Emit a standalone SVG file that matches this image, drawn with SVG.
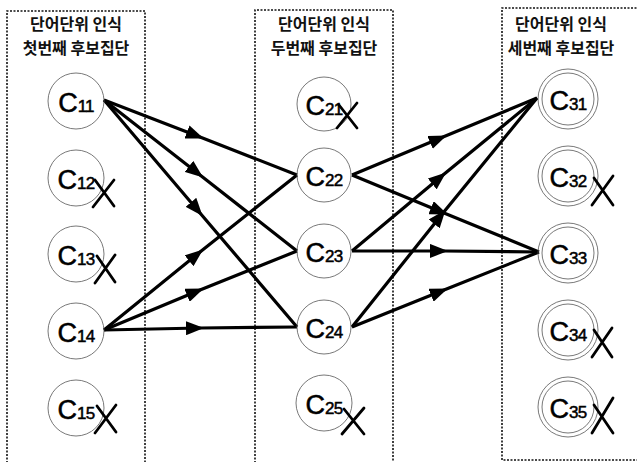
<svg xmlns="http://www.w3.org/2000/svg" width="637" height="462" viewBox="0 0 637 462">
<style>
.box{fill:none;stroke:#111;stroke-width:1.6;stroke-dasharray:2 1.5}
.title{font-family:"Noto Sans CJK KR","Noto Sans",sans-serif;font-size:16px;font-weight:bold;fill:#111;text-anchor:middle}
.c{fill:none;stroke:#555;stroke-width:0.8}
.lbl{font-family:"Liberation Sans",Arial,sans-serif;font-size:27px;fill:#000;stroke:#000;stroke-width:0.5;text-anchor:middle}
.sub{font-size:17px;letter-spacing:-0.8px}
.x{stroke:#000;stroke-width:2.8;fill:none;stroke-linecap:round}
.e{stroke:#000;stroke-width:3.2;fill:none;marker-mid:url(#ah)}
</style>
<defs>
<marker id="ah" markerUnits="userSpaceOnUse" viewBox="0 0 18 14" refX="14" refY="7" markerWidth="18" markerHeight="14" orient="auto">
<path d="M0,0 L18,7 L0,14 z" fill="#000"/>
</marker>
</defs>
<rect width="637" height="462" fill="#fff"/>
<g id="group1">
<path class="box" d="M7,470 V11 H145 V470"/>
<text class="title" x="76" y="30">단어단위 인식</text>
<text class="title" x="76" y="54">첫번째 후보집단</text>
</g>
<g id="group2">
<path class="box" d="M255,470 V10 H393 V470"/>
<text class="title" x="324" y="30">단어단위 인식</text>
<text class="title" x="324" y="54">두번째 후보집단</text>
</g>
<g id="group3">
<path class="box" d="M640,8 H502 V460 H640"/>
<text class="title" x="561" y="30">단어단위 인식</text>
<text class="title" x="561" y="54">세번째 후보집단</text>
</g>
<g id="connectors">
<path class="e" d="M104,100 L200,137 L297,175"/>
<path class="e" d="M104,100 L200,175 L297,251"/>
<path class="e" d="M104,100 L200,213 L297,327"/>
<path class="e" d="M104,330 L200,252 L297,175"/>
<path class="e" d="M104,330 L200,290 L297,251"/>
<path class="e" d="M104,330 L200,328 L297,327"/>
<path class="e" d="M352,175 L443,137 L537,98"/>
<path class="e" d="M352,175 L444,213 L539,252"/>
<path class="e" d="M352,251 L443,175 L537,98"/>
<path class="e" d="M352,251 L444,251 L539,252"/>
<path class="e" d="M352,327 L443,213 L537,98"/>
<path class="e" d="M352,327 L444,290 L539,252"/>
</g>
<g id="C11"><circle class="c" cx="76" cy="101" r="28"/><text class="lbl" x="76" y="112">C<tspan class="sub">11</tspan></text></g>
<g id="C12"><circle class="c" cx="76" cy="178" r="28"/><text class="lbl" x="76" y="189">C<tspan class="sub">12</tspan></text><path class="x" d="M95,180 L114,206 M93,207 L114,180"/></g>
<g id="C13"><circle class="c" cx="76" cy="254" r="28"/><text class="lbl" x="76" y="265">C<tspan class="sub">13</tspan></text><path class="x" d="M97,256 L115,282 M95,283 L115,255"/></g>
<g id="C14"><circle class="c" cx="76" cy="331" r="28"/><text class="lbl" x="76" y="342">C<tspan class="sub">14</tspan></text></g>
<g id="C15"><circle class="c" cx="76" cy="408" r="28"/><text class="lbl" x="76" y="419">C<tspan class="sub">15</tspan></text><path class="x" d="M97,406 L116,432 M95,433 L116,405"/></g>
<g id="C21"><circle class="c" cx="324" cy="104" r="27"/><text class="lbl" x="324" y="115">C<tspan class="sub">21</tspan></text><path class="x" d="M339,105 L357,128 M337,128 L357,103"/></g>
<g id="C22"><circle class="c" cx="324" cy="175" r="27"/><text class="lbl" x="324" y="186">C<tspan class="sub">22</tspan></text></g>
<g id="C23"><circle class="c" cx="324" cy="251" r="27"/><text class="lbl" x="324" y="262">C<tspan class="sub">23</tspan></text></g>
<g id="C24"><circle class="c" cx="324" cy="327" r="27"/><text class="lbl" x="324" y="338">C<tspan class="sub">24</tspan></text></g>
<g id="C25"><circle class="c" cx="324" cy="403" r="28"/><text class="lbl" x="324" y="414">C<tspan class="sub">25</tspan></text><path class="x" d="M344,409 L364,434 M342,434 L364,408"/></g>
<g id="C31"><circle class="c" cx="568" cy="99" r="30"/><circle class="c" cx="568" cy="99" r="26"/><text class="lbl" x="568" y="110">C<tspan class="sub">31</tspan></text></g>
<g id="C32"><circle class="c" cx="568" cy="176" r="30"/><circle class="c" cx="568" cy="176" r="26"/><text class="lbl" x="568" y="187">C<tspan class="sub">32</tspan></text><path class="x" d="M594,178 L613,205 M592,205 L613,176"/></g>
<g id="C33"><circle class="c" cx="568" cy="253" r="30"/><circle class="c" cx="568" cy="253" r="26"/><text class="lbl" x="568" y="264">C<tspan class="sub">33</tspan></text></g>
<g id="C34"><circle class="c" cx="568" cy="330" r="30"/><circle class="c" cx="568" cy="330" r="26"/><text class="lbl" x="568" y="341">C<tspan class="sub">34</tspan></text><path class="x" d="M594,330 L612,357 M592,357 L612,328"/></g>
<g id="C35"><circle class="c" cx="568" cy="407" r="30"/><circle class="c" cx="568" cy="407" r="26"/><text class="lbl" x="568" y="418">C<tspan class="sub">35</tspan></text><path class="x" d="M594,405 L613,433 M592,433 L613,398"/></g>
</svg>
